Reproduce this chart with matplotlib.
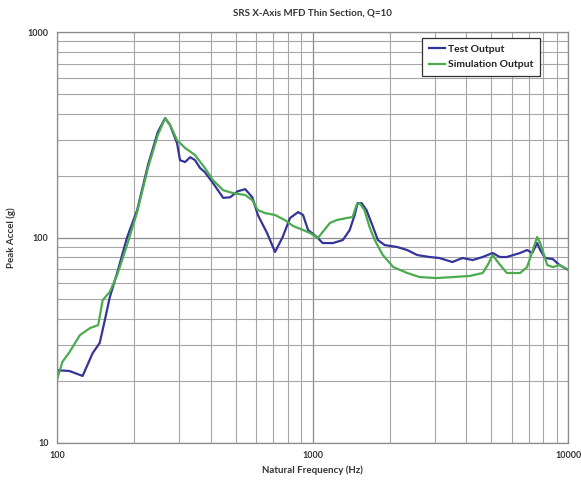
import matplotlib
matplotlib.use("Agg")
import matplotlib.pyplot as plt
from matplotlib.ticker import LogLocator, NullFormatter, FixedLocator, FixedFormatter

# Test Output
test_freq = [100, 101, 112, 126, 138, 147, 154, 161, 172, 188, 206, 227, 248, 265,
             277, 295, 303, 317, 332, 347, 363, 379, 408, 447, 476, 510, 545, 581,
             611, 664, 713, 764, 816, 878, 918, 960, 1039, 1095, 1201, 1313, 1397,
             1461, 1500, 1555, 1625, 1700, 1801, 1915, 2144, 2346, 2565, 2867, 3132,
             3523, 3855, 4230, 4628, 5066, 5396, 5752, 6485, 6903, 7229, 7560, 7770,
             8130, 8700, 9240, 10000]
test_g = [22.0, 22.6, 22.4, 21.2, 27.4, 30.7, 39.7, 51.3, 67.2, 100, 136, 225, 326, 381,
          353, 288, 238, 233, 246, 238, 218, 208, 184, 156, 157, 168, 172, 157,
          128.7, 105, 85, 100.6, 124.4, 133, 128.7, 108.8, 100.6, 94, 94, 97.2, 108.8,
          128.7, 147, 147, 136, 117.7, 97.2, 91.9, 89.9, 86.9, 82.2, 80.4, 79.5,
          76.0, 79.5, 77.7, 80.4, 84.1, 80.4, 80.4, 84.1, 86.9, 84.1, 94, 86.9,
          79.5, 78.6, 73.5, 69.5]

# Simulation Output
sim_freq = [100, 105, 112, 123, 135, 145, 151, 161, 172, 188, 206, 227, 248, 265,
            277, 295, 317, 347, 379, 408, 447, 484, 545, 581, 611, 651, 713, 778,
            839, 918, 978, 1048, 1095, 1169, 1245, 1361, 1434, 1486, 1527, 1596,
            1670, 1751, 1882, 2069, 2346, 2624, 3052, 3523, 4115, 4628, 4843, 5066,
            5300, 5752, 6485, 6903, 7229, 7560, 7770, 8280, 8700, 9240, 10000]
sim_g = [20.3, 24.8, 27.7, 33.5, 36.3, 37.5, 49.6, 54.4, 65.7, 91.9, 133, 218, 315, 381,
         353, 298, 273, 252, 218, 190, 170, 165, 161, 152, 136, 131.6, 128.7, 121.7,
         113.8, 108.8, 105.2, 99.4, 106.4, 117.7, 121.7, 124.4, 125.8, 144, 147, 136,
         112.5, 97.2, 82.2, 71.8, 67.2, 64.2, 63.5, 64.2, 65.0, 67.2, 73.5, 82.2,
         76.0, 67.2, 67.2, 71.8, 85.0, 100.6, 94, 73.5, 71.8, 73.5, 69.5]

x_ticks = [100, 1000, 10000]
y_ticks = [10, 100, 1000]

plt.rcParams['font.family'] = ['Lato', 'DejaVu Sans']

fig = plt.figure(figsize=(5.81, 4.86), dpi=100)
ax = fig.add_axes([0.098, 0.0885, 0.88, 0.8455])

ax.plot(test_freq, test_g, color='#35349a', lw=1.6, label='Test Output')
ax.plot(sim_freq, sim_g, color='#4aab4f', lw=1.6, label='Simulation Output')

ax.set_xscale('log')
ax.set_yscale('log')
ax.set_xlim(100, 10000)
ax.set_ylim(10, 1000)

ax.xaxis.set_major_locator(FixedLocator(x_ticks))
ax.xaxis.set_major_formatter(FixedFormatter([str(v) for v in x_ticks]))
ax.yaxis.set_major_locator(FixedLocator(y_ticks))
ax.yaxis.set_major_formatter(FixedFormatter([str(v) for v in y_ticks]))
ax.xaxis.set_minor_locator(LogLocator(base=10, subs=range(2, 10)))
ax.yaxis.set_minor_locator(LogLocator(base=10, subs=range(2, 10)))
ax.xaxis.set_minor_formatter(NullFormatter())
ax.yaxis.set_minor_formatter(NullFormatter())

ax.grid(True, which='major', color='#8c8c8c', lw=0.9)
ax.grid(True, which='minor', color='#a6a6a6', lw=0.8)
ax.set_axisbelow(True)
ax.tick_params(which='both', length=0, labelsize=6.5, pad=6)
for lab in ax.get_xticklabels() + ax.get_yticklabels():
    lab.set_fontweight('bold')
    lab.set_color('#333333')
for s in ax.spines.values():
    s.set_color('#8c8c8c')
    s.set_linewidth(0.9)

ax.set_title('SRS X-Axis MFD Thin Section, Q=10', fontsize=7, fontweight='bold',
             color='#333333', pad=12)
ax.set_xlabel('Natural Frequency (Hz)', fontsize=7, fontweight='bold', color='#333333',
              labelpad=4)
ax.set_ylabel('Peak Accel (g)', fontsize=7, fontweight='bold', color='#333333',
              labelpad=8)

leg = ax.legend(loc='upper right', bbox_to_anchor=(0.945, 0.985), fontsize=7.5,
                frameon=True, fancybox=False, handlelength=1.6, handletextpad=0.3,
                borderpad=0.6, labelspacing=0.6, borderaxespad=0)
leg.get_frame().set_edgecolor('#333333')
leg.get_frame().set_linewidth(0.9)
leg.get_frame().set_alpha(1)
for t in leg.get_texts():
    t.set_fontweight('bold')
    t.set_color('#222222')

fig.savefig('out.png', dpi=100)
